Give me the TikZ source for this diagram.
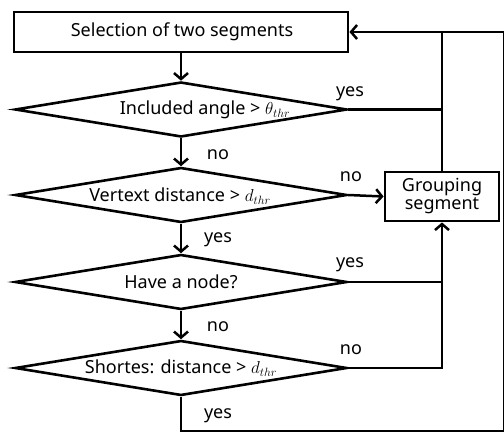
\documentclass[tikz,border=0pt]{standalone}
\usepackage{fontspec}
\setmainfont{Noto Sans}
\usetikzlibrary{shapes.geometric,arrows.meta}
\begin{document}
\begin{tikzpicture}[x=1pt,y=-1pt,
  conn/.style={line width=2.5pt},
  arr/.style={conn,-{Straight Barb[length=6pt,width=14pt,line width=2.5pt]}},
  boxstyle/.style={draw,line width=2.8pt,rectangle,inner sep=0pt},
  dia/.style={draw,line width=2.6pt,diamond,inner sep=0pt,minimum width=332pt,minimum height=55pt},
  txt/.style={font=\fontsize{18}{20}\selectfont,inner sep=0pt},
  lbl/.style={font=\fontsize{18}{20}\selectfont,inner sep=0pt}]
\useasboundingbox (0,0) rectangle (504,434);
\node[boxstyle,minimum width=334pt,minimum height=40pt] (sel) at (181,32) {};
\node[txt] (selt) at (182,32) {Selection of two segments};
\node[dia] (d1) at (181,109.5) {};
\node[txt] (d1t) at (205,110) {Included angle > $\theta_{thr}$};
\node[dia] (d2) at (181,195) {};
\node[txt] (d2t) at (180,196) {Vertext distance > $d_{thr}$};
\node[dia] (d3) at (181,282) {};
\node[txt] (d3t) at (181,282) {Have a node?};
\node[dia] (d4) at (181,368) {};
\node[txt] (d4t) at (181,368) {Shortes: distance > $d_{thr}$};
\node[boxstyle,minimum width=114pt,minimum height=49pt,align=center,font=\fontsize{18}{18}\selectfont] (grp) at (442,196.5) {Grouping\\segment};
\coordinate (bl) at (181,431);
\coordinate (br) at (504,431);
\coordinate (tr) at (504,32);
\draw[arr] (sel.south) -- (d1.north);
\draw[arr] (d1.south) -- (d2.north);
\draw[arr] (d2.south) -- (d3.north);
\draw[arr] (d3.south) -- (d4.north);
\draw[arr] (d2.east) -- (grp.west);
\draw[conn] (d1.east) -- (d1.east -| grp.north);
\draw[conn] (grp.north) -- (grp.north |- tr);
\draw[conn] (d3.east) -- (d3.east -| grp.south);
\draw[arr] (d4.east) -| (grp.south);
\draw[arr] (d4.south) -- (bl) -- (br) -- (tr) -- (sel.east);
\node[lbl] (l1) at (350,94) {yes};
\node[lbl] (l2) at (218,155) {no};
\node[lbl] (l3) at (351,177) {no};
\node[lbl] (l4) at (218,240) {yes};
\node[lbl] (l5) at (350,265) {yes};
\node[lbl] (l6) at (218,327) {no};
\node[lbl] (l7) at (351,350) {no};
\node[lbl] (l8) at (218,416) {yes};
\end{tikzpicture}
\end{document}
